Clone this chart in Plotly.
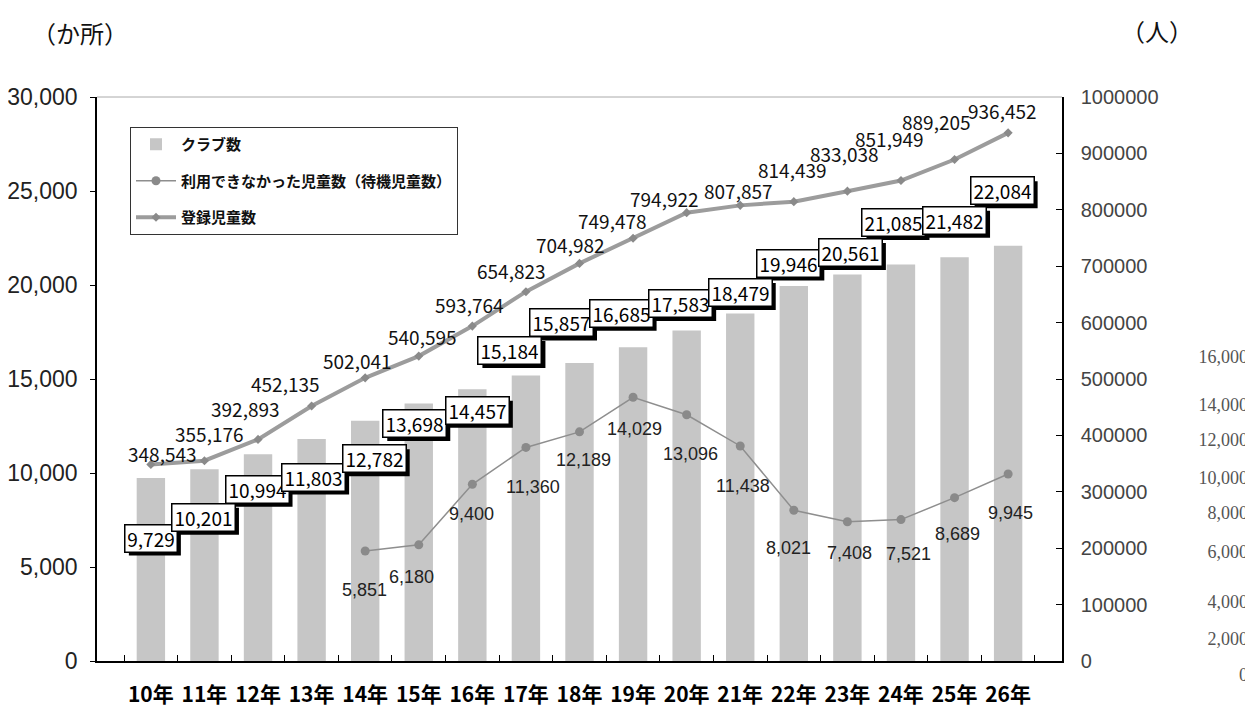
import plotly.graph_objects as go

# ---------------- data ----------------
years = ["10年", "11年", "12年", "13年", "14年", "15年", "16年", "17年", "18年",
         "19年", "20年", "21年", "22年", "23年", "24年", "25年", "26年"]
clubs = [9729, 10201, 10994, 11803, 12782, 13698, 14457, 15184, 15857,
         16685, 17583, 18479, 19946, 20561, 21085, 21482, 22084]
registered = [348543, 355176, 392893, 452135, 502041, 540595, 593764, 654823, 704982,
              749478, 794922, 807857, 814439, 833038, 851949, 889205, 936452]
waiting = [None, None, None, None, 5851, 6180, 9400, 11360, 12189,
           14029, 13096, 11438, 8021, 7408, 7521, 8689, 9945]

left_ticks = [0, 5000, 10000, 15000, 20000, 25000, 30000]
right_ticks = [0, 100000, 200000, 300000, 400000, 500000, 600000, 700000, 800000, 900000, 1000000]
third_tick_text = ["0", "2,000", "4,000", "6,000", "8,000", "10,000", "12,000", "14,000", "16,000"]

# ---------------- label placement (pixel offsets, screen coords: +dy = down) ----------------
club_lbl_off = [(0, 60), (-1, 48), (-1, 35), (2, 38), (9, 38), (-4, 20), (5, 21),
                (-16, -25), (-18, -40), (-12, -34), (-6, -27), (0, -21), (-5, -23),
                (3, -22), (-7, -42), (0, -37), (-6, -55)]
reg_lbl_off = [(12, -11), (5, -27), (-13, -31), (-26, -23), (-8, -17), (4, -20), (-3, -22),
               (-14, -21), (-9, -19), (-21, -18), (-22, -14), (-2, -15), (-1, -32),
               (-3, -38), (-11, -42), (-18, -38), (-6, -22)]
wait_lbl_off = [None, None, None, None, (-1, 39), (-7, 32), (-1, 30), (7, 40), (4, 28),
                (1, 32), (4, 39), (3, 40), (-5, 38), (2, 31), (8, 34), (3, 36), (2, 39)]
# pixel rows (window coords) of the pasted third axis labels
third_tick_px = [675, 639, 602, 552, 513, 478, 440, 405, 357]

# ---------------- geometry (window coords, page body has an 8px margin) ----------------
OFF = 8
WIN_W, WIN_H = 1253, 709
W, H = WIN_W - OFF, WIN_H - OFF
PLOT_LEFT, PLOT_TOP, PLOT_RIGHT, PLOT_BOTTOM = 97, 97, 1062, 661   # main axes box
AREA_RIGHT, AREA_BOTTOM = 1250, 679                                 # full plotting area
ML, MT = PLOT_LEFT - OFF, PLOT_TOP - OFF
MR, MB = WIN_W - AREA_RIGHT, WIN_H - AREA_BOTTOM
PW, PH = W - ML - MR, H - MT - MB
x_dom = [0, (PLOT_RIGHT - PLOT_LEFT) / PW]
y_dom = [(AREA_BOTTOM - PLOT_BOTTOM) / PH, 1]


def px_x(xw):
    return (xw - PLOT_LEFT) / PW


def px_y(yw):
    return (AREA_BOTTOM - yw) / PH


JP = "Noto Sans CJK JP"

fig = go.Figure()

fig.add_trace(go.Bar(
    x=years, y=clubs, name="クラブ数", yaxis="y",
    marker=dict(color="#c6c6c6", line=dict(width=0)),
    width=0.53, legendgroup="g1",
))
fig.add_trace(go.Scatter(
    x=years, y=waiting, name="利用できなかった児童数（待機児童数）", yaxis="y",
    mode="lines+markers", line=dict(color="#8e8e8e", width=1.5),
    marker=dict(symbol="circle", size=9, color="#8a8a8a"),
    legendgroup="g2", connectgaps=False,
))
fig.add_trace(go.Scatter(
    x=years, y=registered, name="登録児童数", yaxis="y2",
    mode="lines+markers", line=dict(color="#9c9c9c", width=4),
    marker=dict(symbol="diamond", size=7, color="#8a8a8a"),
    legendgroup="g3",
))
# carrier for the pasted third axis
fig.add_trace(go.Scatter(x=[], y=[], xaxis="x2", yaxis="y3", showlegend=False,
                         hoverinfo="skip"))

annotations = []
shapes = []

# boxed club labels with drop shadow
BOX_H, PAD, BW, SH = 22, 2, 1.5, 4
for yr, v, (dx, dy) in zip(years, clubs, club_lbl_off):
    txt = f"{v:,}"
    bw_txt = 58 if len(txt) >= 6 else 47
    ow = bw_txt + 2 * (PAD + BW) - 2
    oh = BOX_H + 2 * (PAD + BW) - 2
    cx, cy = dx + SH, -(dy + SH)
    shapes.append(dict(type="rect", xref="x", yref="y", xsizemode="pixel", ysizemode="pixel",
                       xanchor=yr, yanchor=v,
                       x0=cx - ow / 2, x1=cx + ow / 2, y0=cy - oh / 2, y1=cy + oh / 2,
                       fillcolor="#000000", line=dict(width=0), layer="above"))
    annotations.append(dict(x=yr, y=v, xref="x", yref="y", text=txt, showarrow=False,
                            xshift=dx, yshift=-dy, xanchor="center", yanchor="middle",
                            width=bw_txt, height=BOX_H, bgcolor="#ffffff",
                            bordercolor="#000000", borderwidth=BW, borderpad=PAD,
                            font=dict(family=JP, size=19, color="#000000")))

# registered-children labels
for yr, v, (dx, dy) in zip(years, registered, reg_lbl_off):
    annotations.append(dict(x=yr, y=v, xref="x", yref="y2", text=f"{v:,}", showarrow=False,
                            xshift=dx, yshift=-dy, xanchor="center", yanchor="middle",
                            font=dict(family=JP, size=19, color="#111111")))

# waiting-children labels
for yr, v, off in zip(years, waiting, wait_lbl_off):
    if v is None:
        continue
    dx, dy = off
    annotations.append(dict(x=yr, y=v, xref="x", yref="y", text=f"{v:,}", showarrow=False,
                            xshift=dx, yshift=-dy, xanchor="center", yanchor="middle",
                            font=dict(family="Liberation Sans", size=18, color="#222222")))

# unit titles
annotations.append(dict(xref="paper", yref="paper", x=px_x(80), y=px_y(33),
                        text="（か所）", showarrow=False, xanchor="center", yanchor="middle",
                        font=dict(family=JP, size=24, color="#111111")))
annotations.append(dict(xref="paper", yref="paper", x=px_x(1157), y=px_y(31),
                        text="（人）", showarrow=False, xanchor="center", yanchor="middle",
                        font=dict(family=JP, size=24, color="#111111")))

# light top frame line
shapes.append(dict(type="line", xref="x domain", yref="y domain", x0=0, x1=1, y0=1, y1=1,
                   line=dict(color="#aaaaaa", width=1)))

fig.update_layout(
    width=W, height=H,
    margin=dict(l=ML, r=MR, t=MT, b=MB, pad=0, autoexpand=False),
    paper_bgcolor="#ffffff", plot_bgcolor="rgba(0,0,0,0)",
    showlegend=True,
    legend=dict(x=px_x(130), y=px_y(127), xanchor="left", yanchor="top",
                bordercolor="#333333", borderwidth=1, bgcolor="#ffffff",
                font=dict(family=JP, size=15, color="#111111", weight="bold"),
                tracegroupgap=14, traceorder="grouped", itemwidth=40),
    xaxis=dict(domain=x_dom, anchor="y", type="category", showgrid=False, zeroline=False,
               showline=True, linecolor="#000000", linewidth=1.5, automargin=False,
               ticks="inside", ticklen=6, tickcolor="#000000", tickson="boundaries",
               tickangle=0,
               tickfont=dict(family=JP, size=21, color="#000000", weight="bold"),
               ticklabelstandoff=14),
    yaxis=dict(domain=y_dom, anchor="x", range=[0, 30000], tickvals=left_ticks,
               tickformat=",d", showgrid=False, zeroline=False, automargin=False,
               showline=True, linecolor="#000000", linewidth=1.5,
               ticks="outside", ticklen=5, tickcolor="#000000",
               tickfont=dict(family="Liberation Sans", size=23, color="#222222"),
               ticklabelstandoff=8),
    yaxis2=dict(overlaying="y", side="right", anchor="x", range=[0, 1000000],
                tickvals=right_ticks, tickformat="d", showgrid=False, zeroline=False,
                showline=True, linecolor="#000000", linewidth=1.5, automargin=False,
                ticks="inside", ticklen=6, tickcolor="#000000",
                tickfont=dict(family="Liberation Sans", size=20, color="#444444"),
                ticklabelstandoff=13),
    xaxis2=dict(domain=x_dom, anchor="y3", visible=False, range=[0, 1], fixedrange=True,
                automargin=False),
    yaxis3=dict(domain=[0, 1], anchor="free", position=px_x(1248), side="left",
                range=[AREA_BOTTOM, PLOT_TOP], tickvals=third_tick_px, ticktext=third_tick_text,
                showgrid=False, zeroline=False, showline=False, ticks="", automargin=False,
                tickfont=dict(family="Liberation Serif", size=18, color="#555555"),
                fixedrange=True),
    annotations=annotations,
    shapes=shapes,
)

fig.write_html("out.html")
